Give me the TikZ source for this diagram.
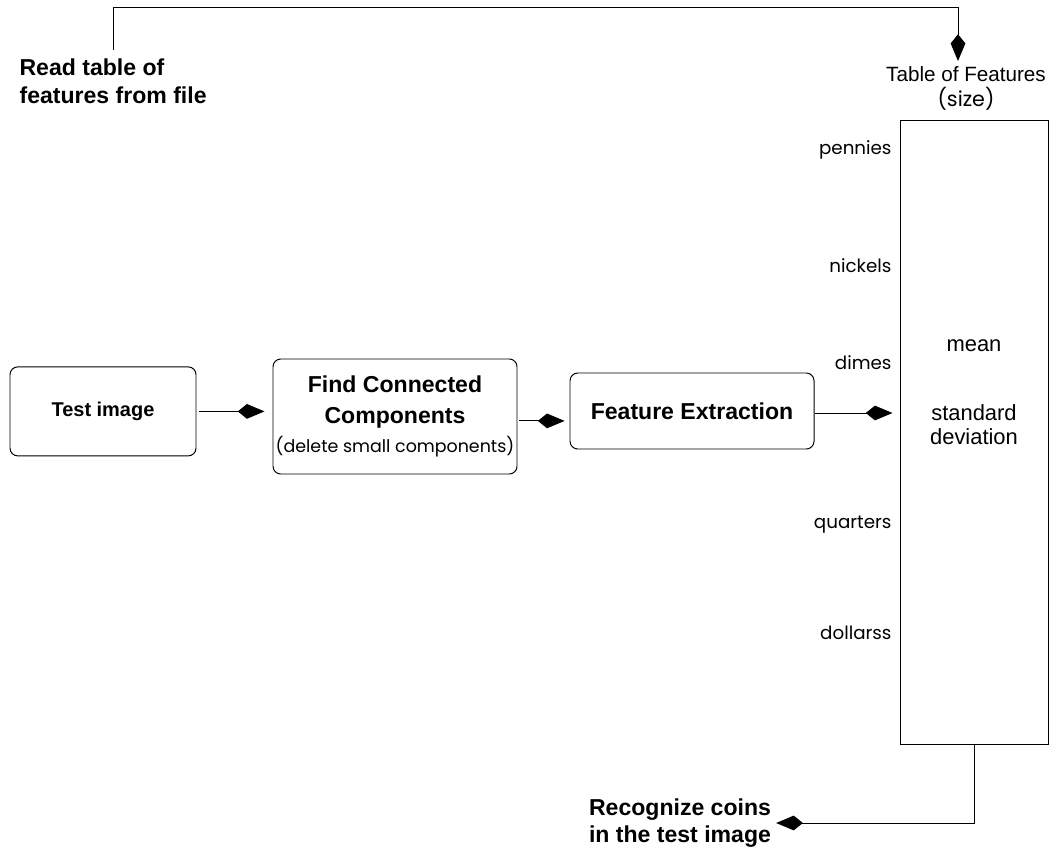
\documentclass[tikz,border=0pt]{standalone}
\usepackage{fontspec}
\setmainfont{Liberation Sans}
\newfontfamily\gothic{Poppins}
\usetikzlibrary{arrows.meta}
\begin{document}
\begin{tikzpicture}[>={Kite[length=19pt,width=10.5pt,inset=6.5pt]},line width=0.7pt]
\tikzset{
  stage/.style={draw,shape=rectangle,rounded corners=5.5pt,align=center,inner sep=0pt},
  caption/.style={font=\bfseries\fontsize{16.4}{19.6}\selectfont,align=left},
  coin/.style={anchor=base east,inner sep=0pt,font=\gothic\fontsize{13}{15}\selectfont}
}
\useasboundingbox (0,0) rectangle (26.5,21.175);
\node[caption,anchor=west] (read) at (0.36,19.15) {Read table of\\features from file};
\node[align=center,anchor=north,font=\fontsize{14.7}{18}\selectfont] (title) at (24.15,19.65)
  {Table of Features\\{\gothic (size)}};
\node[draw,minimum width=3.7cm,minimum height=15.6cm,inner sep=0pt] (table) at (24.35,10.375) {};
\foreach \coin/\y in {pennies/17.3,nickels/14.35,dimes/11.95,quarters/7.975,dollarss/5.2}
  \node[coin] (\coin) at (22.3,\y) {\coin};
\node[anchor=base,font=\fontsize{15.6}{17}\selectfont] (mean) at (24.35,12.4) {mean};
\node[align=center,font=\fontsize{15.6}{17}\selectfont] (stdev) at (24.35,10.55) {standard\\deviation};
\node[stage,minimum width=4.65cm,minimum height=2.225cm,font=\bfseries\fontsize{14.2}{17}\selectfont]
  (test) at (2.575,10.89) {Test image};
\node[stage,minimum width=6.1cm,minimum height=2.875cm,font=\bfseries\fontsize{16.4}{19.6}\selectfont]
  (find) at (9.875,10.7625) {Find Connected\\[3pt]Components\\[1pt]{\gothic\mdseries\fontsize{12.4}{19.6}\selectfont (delete small components)}};
\node[stage,minimum width=6.1cm,minimum height=1.9cm,font=\bfseries\fontsize{16.4}{19.6}\selectfont]
  (feat) at (17.3,10.9) {Feature Extraction};
\node[caption,align=center] (recog) at (17.0,0.6) {Recognize coins\\in the test image};
\draw[->] ([yshift=0.08cm]read.north) -- ++(0,1.08) -| ([xshift=-0.2cm]title.north);
\draw[->,shorten <=2pt,shorten >=5.7pt] (test.east) -- (test.east -| find.west);
\draw[->,shorten <=1.4pt,shorten >=3.5pt] ([yshift=-0.11cm]find.east) -- ([yshift=-0.11cm]find.east -| feat.west);
\draw[->,shorten >=5pt] ([yshift=-0.05cm]feat.east) -- ([yshift=-0.05cm]feat.east -| table.west);
\draw[->] (table.south) |- (recog.east);
\end{tikzpicture}
\end{document}
